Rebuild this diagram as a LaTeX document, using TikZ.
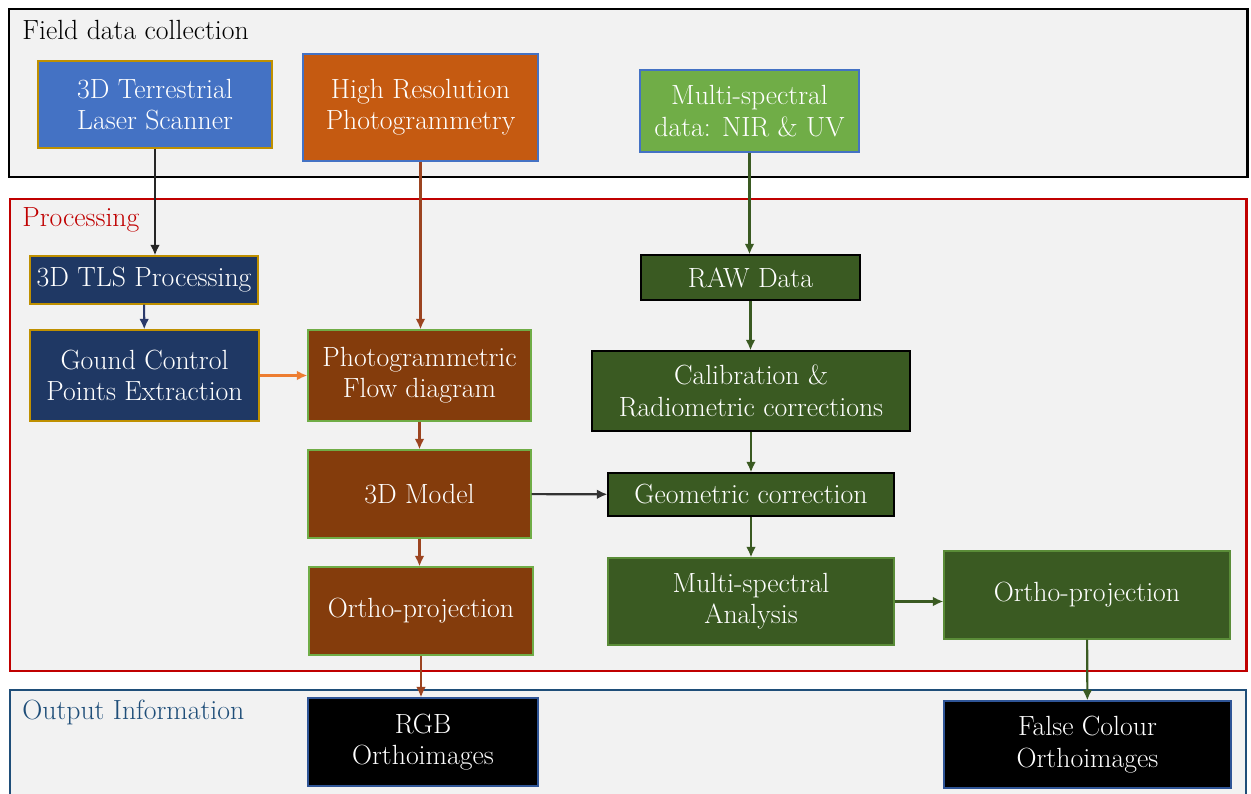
\documentclass[tikz,border=0pt]{standalone}
\usepackage{fontspec}
\setmainfont{Latin Modern Roman}
\usetikzlibrary{arrows.meta}
\definecolor{bgray}{HTML}{F2F2F2}
\definecolor{pred}{HTML}{C00000}
\definecolor{oblue}{HTML}{1F4E79}
\definecolor{tlsblue}{HTML}{4472C4}
\definecolor{gold}{HTML}{BF9000}
\definecolor{hiorange}{HTML}{C55A11}
\definecolor{msgreen}{HTML}{70AD47}
\definecolor{navy}{HTML}{1F3864}
\definecolor{brown}{HTML}{843C0C}
\definecolor{dgreen}{HTML}{3A5A22}
\definecolor{bborder}{HTML}{2F5597}
\definecolor{arbrown}{HTML}{9C4420}
\definecolor{arorange}{HTML}{ED7D31}
\definecolor{arnavy}{HTML}{2B3A6B}
\newcommand\fs{\fontsize{15.8}{17.8}\selectfont}
\tikzset{
  box/.style={draw, line width=0.6pt, text=white, align=center, inner sep=0pt, font=\fs},
  arr/.style={line width=1.2pt, -{Latex[length=6pt,width=5.5pt]}},
  frame/.style={fill=bgray}
}
\begin{document}
\begin{tikzpicture}[x=0.02cm,y=-0.02cm]
\clip (0,0) rectangle (1251,794);
\fill[white] (0,0) rectangle (1251,794);
% frames
\draw[frame, draw=black, line width=1.7pt] (9,9) rectangle (1247,177);
\draw[frame, draw=pred, line width=1.7pt] (10,199) rectangle (1246,671);
\draw[frame, draw=oblue, line width=1.3pt] (10,690) rectangle (1246,810);
\node[anchor=west, font=\fs, inner sep=0pt] (t1) at (22,30) {Field data collection};
\node[anchor=west, font=\fs, text=pred, inner sep=0pt] (t2) at (22,220) {Processing};
\node[anchor=west, font=\fs, text=oblue, inner sep=0pt] (t3) at (22,712) {Output Information};
% field nodes
\node[box, fill=tlsblue, draw=gold, minimum width=234*0.02cm, minimum height=87*0.02cm] (tls) at (155,104.5) {3D Terrestrial\\Laser Scanner};
\node[box, fill=hiorange, draw=tlsblue, minimum width=235*0.02cm, minimum height=107*0.02cm] (hr) at (420.5,107.5) {High Resolution\\Photogrammetry};
\node[box, fill=msgreen, draw=tlsblue, minimum width=219*0.02cm, minimum height=82*0.02cm] (ms) at (749.5,111) {Multi-spectral\\data: NIR \& UV};
% processing nodes
\node[box, fill=navy, draw=gold, minimum width=228*0.02cm, minimum height=48*0.02cm] (tlsp) at (144,280) {3D TLS Processing};
\node[box, fill=navy, draw=gold, minimum width=229*0.02cm, minimum height=91*0.02cm] (gcp) at (144.5,375.5) {Gound Control\\Points Extraction};
\node[box, fill=brown, draw=msgreen, minimum width=223*0.02cm, minimum height=91*0.02cm] (pfd) at (419.5,375.5) {Photogrammetric\\Flow diagram};
\node[box, fill=brown, draw=msgreen, minimum width=223*0.02cm, minimum height=88*0.02cm] (m3d) at (419.5,494) {3D Model};
\node[box, fill=brown, draw=msgreen, minimum width=224*0.02cm, minimum height=88*0.02cm] (opb) at (421,611) {Ortho-projection};
\node[box, fill=dgreen, draw=black, minimum width=219*0.02cm, minimum height=45*0.02cm] (raw) at (750.5,277.5) {RAW Data};
\node[box, fill=dgreen, draw=black, minimum width=318*0.02cm, minimum height=80*0.02cm] (cal) at (751,391) {Calibration \&\\Radiometric corrections};
\node[box, fill=dgreen, draw=black, minimum width=286*0.02cm, minimum height=43*0.02cm] (geo) at (751,494.5) {Geometric correction};
\node[box, fill=dgreen, draw=msgreen!60!dgreen, minimum width=286*0.02cm, minimum height=87*0.02cm] (msa) at (751,601.5) {Multi-spectral\\Analysis};
\node[box, fill=dgreen, draw=msgreen!60!dgreen, minimum width=286*0.02cm, minimum height=88*0.02cm] (opg) at (1087,595) {Ortho-projection};
% output nodes
\node[box, fill=black, draw=bborder, minimum width=230*0.02cm, minimum height=88*0.02cm] (rgb) at (423,742) {RGB\\Orthoimages};
\node[box, fill=black, draw=bborder, minimum width=287*0.02cm, minimum height=87*0.02cm] (fco) at (1087.5,744.5) {False Colour\\Orthoimages};
% connectors
\draw[arr, draw=black!85] (tls.south) -- (tlsp.north -| tls.south);
\draw[arr, draw=arnavy] (tlsp) -- (gcp);
\draw[arr, draw=arbrown] (hr.south) -- (pfd.north -| hr.south);
\draw[arr, draw=arorange] (gcp) -- (pfd);
\draw[arr, draw=arbrown] (pfd) -- (m3d);
\draw[arr, draw=arbrown] (m3d) -- (opb.north -| m3d.south);
\draw[arr, draw=arbrown] (opb) -- (rgb.north -| opb.south);
\draw[arr, draw=black!80] (m3d) -- (geo);
\draw[arr, draw=dgreen] (ms.south) -- (raw.north -| ms.south);
\draw[arr, draw=dgreen] (raw) -- (cal.north -| raw.south);
\draw[arr, draw=dgreen] (cal) -- (geo);
\draw[arr, draw=dgreen] (geo) -- (msa);
\draw[arr, draw=dgreen] (msa.east) -- (msa.east -| opg.west);
\draw[arr, draw=dgreen] (opg) -- (fco);
\end{tikzpicture}
\end{document}
